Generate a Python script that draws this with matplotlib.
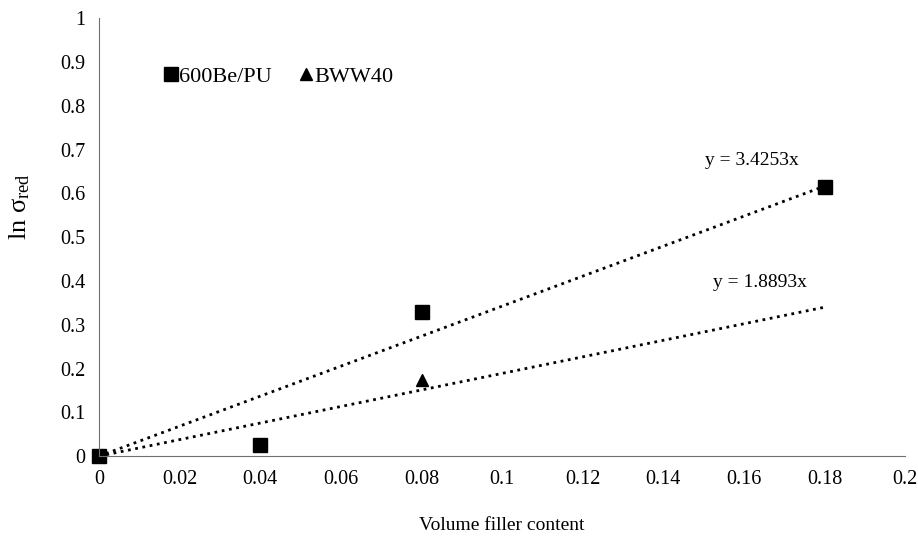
import matplotlib.pyplot as plt
import numpy as np

plt.rcParams['font.family'] = ['Liberation Serif', 'DejaVu Serif']
plt.rcParams['mathtext.fontset'] = 'custom'
plt.rcParams['mathtext.rm'] = 'Liberation Serif'
plt.rcParams['mathtext.it'] = 'Liberation Serif'

# data
x_pu = [0, 0.04, 0.08, 0.18]
y_pu = [0, 0.025, 0.33, 0.615]
x_bww = [0, 0.08]
y_bww = [0, 0.175]
slope_pu = 3.4253
slope_bww = 1.8893
x_fit = np.array([0, 0.18])

xticks = [0, 0.02, 0.04, 0.06, 0.08, 0.1, 0.12, 0.14, 0.16, 0.18, 0.2]
xticklabels = ['0', '0.02', '0.04', '0.06', '0.08', '0.1', '0.12', '0.14', '0.16', '0.18', '0.2']
yticks = [0, 0.1, 0.2, 0.3, 0.4, 0.5, 0.6, 0.7, 0.8, 0.9, 1]
yticklabels = ['0', '0.1', '0.2', '0.3', '0.4', '0.5', '0.6', '0.7', '0.8', '0.9', '1']

fig = plt.figure(figsize=(9.18, 5.36), dpi=100)
ax = fig.add_axes([0.108, 0.149, 0.878, 0.817])

ax.plot(x_fit, slope_pu * x_fit, ':', color='black', lw=2)
ax.plot(x_fit, slope_bww * x_fit, ':', color='black', lw=2)
ax.plot(x_pu, y_pu, 's', color='black', ms=10, linestyle='none', label='600Be/PU', clip_on=False)
ax.plot(x_bww, y_bww, '^', color='black', ms=8, linestyle='none', label='BWW40', clip_on=False)

ax.text(0.1504, 0.676, 'y = 3.4253x', fontsize=14, va='center')
ax.text(0.1524, 0.397, 'y = 1.8893x', fontsize=14, va='center')

ax.set_xlim(0, 0.2)
ax.set_ylim(0, 1)
ax.set_xticks(xticks)
ax.set_xticklabels(xticklabels)
ax.set_yticks(yticks)
ax.set_yticklabels(yticklabels)
ax.tick_params(length=0, labelsize=14.5, pad=10)
for s in ['top', 'right']:
    ax.spines[s].set_visible(False)
ax.spines['left'].set_color('#707070')
ax.spines['bottom'].set_color('#707070')

ax.set_xlabel('Volume filler content', fontsize=14, labelpad=20)
ax.set_ylabel(r'ln σ$_{\mathrm{red}}$', fontsize=19)
ax.yaxis.set_label_coords(-0.083, 0.57)

ax.legend(loc='upper left', bbox_to_anchor=(0.05, 0.935), ncol=2, frameon=False,
          fontsize=16, handletextpad=-0.1, columnspacing=1.0, handlelength=1.0)

plt.savefig('out.png')
